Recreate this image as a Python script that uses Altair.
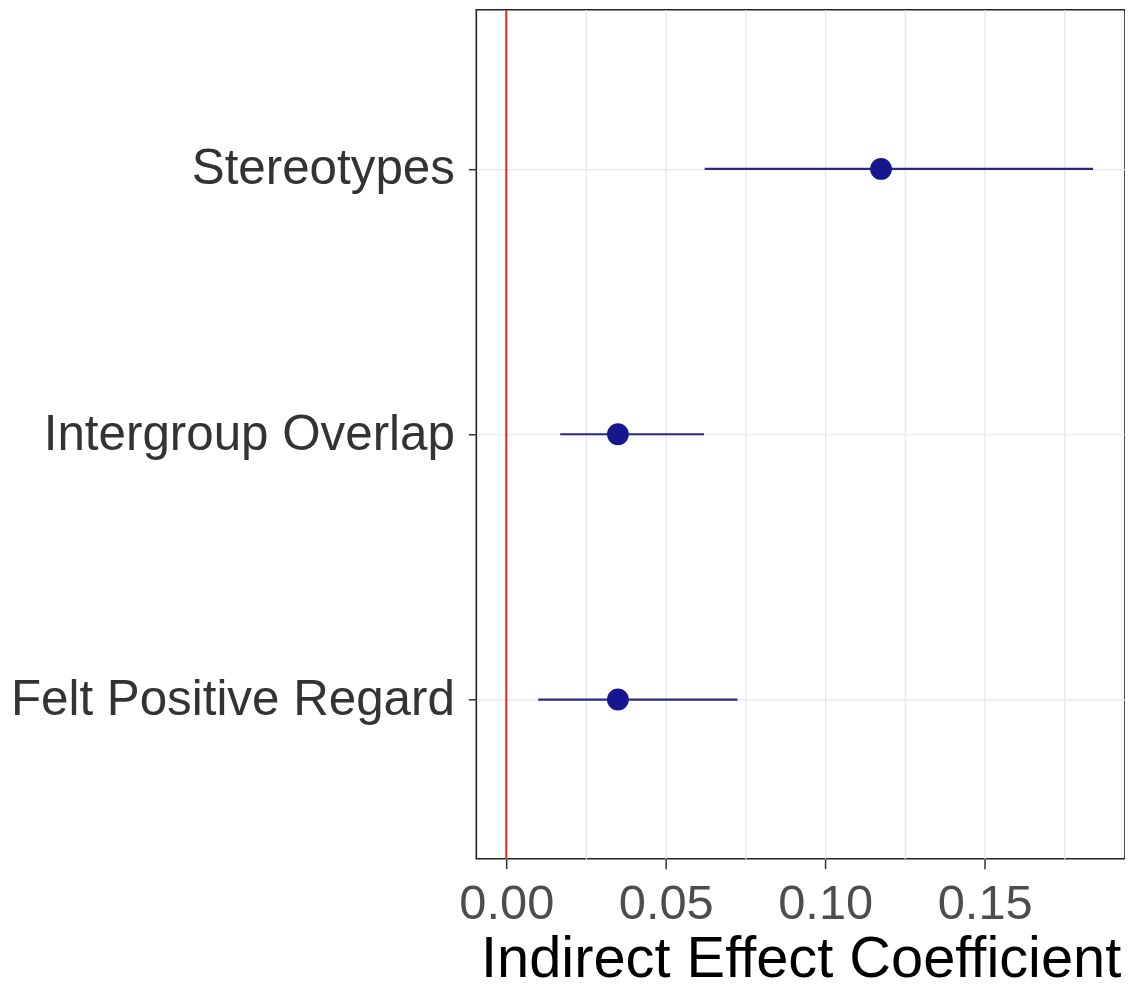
import altair as alt
import pandas as pd

categories = ["Stereotypes", "Intergroup Overlap", "Felt Positive Regard"]
estimate = [0.1175, 0.035, 0.035]
ci_low = [0.0622, 0.0169, 0.0100]
ci_high = [0.1840, 0.0620, 0.0725]
zero_line = [0.0]
grid_values = [0.0, 0.025, 0.05, 0.075, 0.10, 0.125, 0.15, 0.175]

df = pd.DataFrame({"label": categories, "est": estimate, "lo": ci_low, "hi": ci_high})
zdf = pd.DataFrame({"z": zero_line})

FONT = "Liberation Sans"
xscale = alt.Scale(domain=[-0.0094, 0.194], nice=False, zero=False)
yscale = alt.Scale(type="point", padding=0.6)

x_axis = alt.Axis(
    values=grid_values,
    labelExpr="round(datum.value*1000) % 50 == 0 ? format(datum.value, '.2f') : ''",
    tickColor={"condition": {"test": "round(datum.value*1000) % 50 == 0", "value": "#333333"}, "value": "transparent"},
    gridColor="#e3e7ee",
    gridWidth=1.2,
    tickSize=10,
    tickWidth=1.5,
    labelFontSize=49,
    labelColor="#4d4d4d",
    labelFont=FONT,
    labelPadding=11,
    labelLimit=0,
    title="Indirect Effect Coefficient",
    titleFont=FONT,
    titleFontSize=58,
    titleFontWeight="normal",
    titleColor="#000000",
    titlePadding=2,
    domain=False,
)
y_axis = alt.Axis(
    title=None,
    grid=True,
    gridColor="#e3e7ee",
    gridWidth=1.2,
    tickSize=8,
    tickWidth=1.5,
    tickColor="#333333",
    labelFontSize=49.5,
    labelColor="#333333",
    labelFont=FONT,
    labelPadding=14,
    labelLimit=0,
    domain=False,
)

base = alt.Chart(df)
rules = base.mark_rule(color="#28288a", strokeWidth=2.2).encode(
    x=alt.X("lo:Q", scale=xscale, axis=x_axis),
    x2="hi:Q",
    y=alt.Y("label:N", sort=categories, scale=yscale, axis=y_axis),
)
points = base.mark_point(filled=True, color="#16168f", size=480, opacity=1).encode(
    x=alt.X("est:Q", scale=xscale),
    y=alt.Y("label:N", sort=categories, scale=yscale),
)
zero = alt.Chart(zdf).mark_rule(color="#e5271b", strokeWidth=2).encode(
    x=alt.X("z:Q", scale=xscale)
)

chart = alt.layer(rules, zero, points).properties(
    width=651,
    height=852,
    background="white",
    autosize=alt.AutoSizeParams(type="none"),
    padding={"left": 470, "top": 0, "right": 0, "bottom": 132},
).configure_view(
    stroke="#222222", strokeWidth=1.6
)

chart.save("out.html", embed_options={"renderer": "svg", "actions": False})
